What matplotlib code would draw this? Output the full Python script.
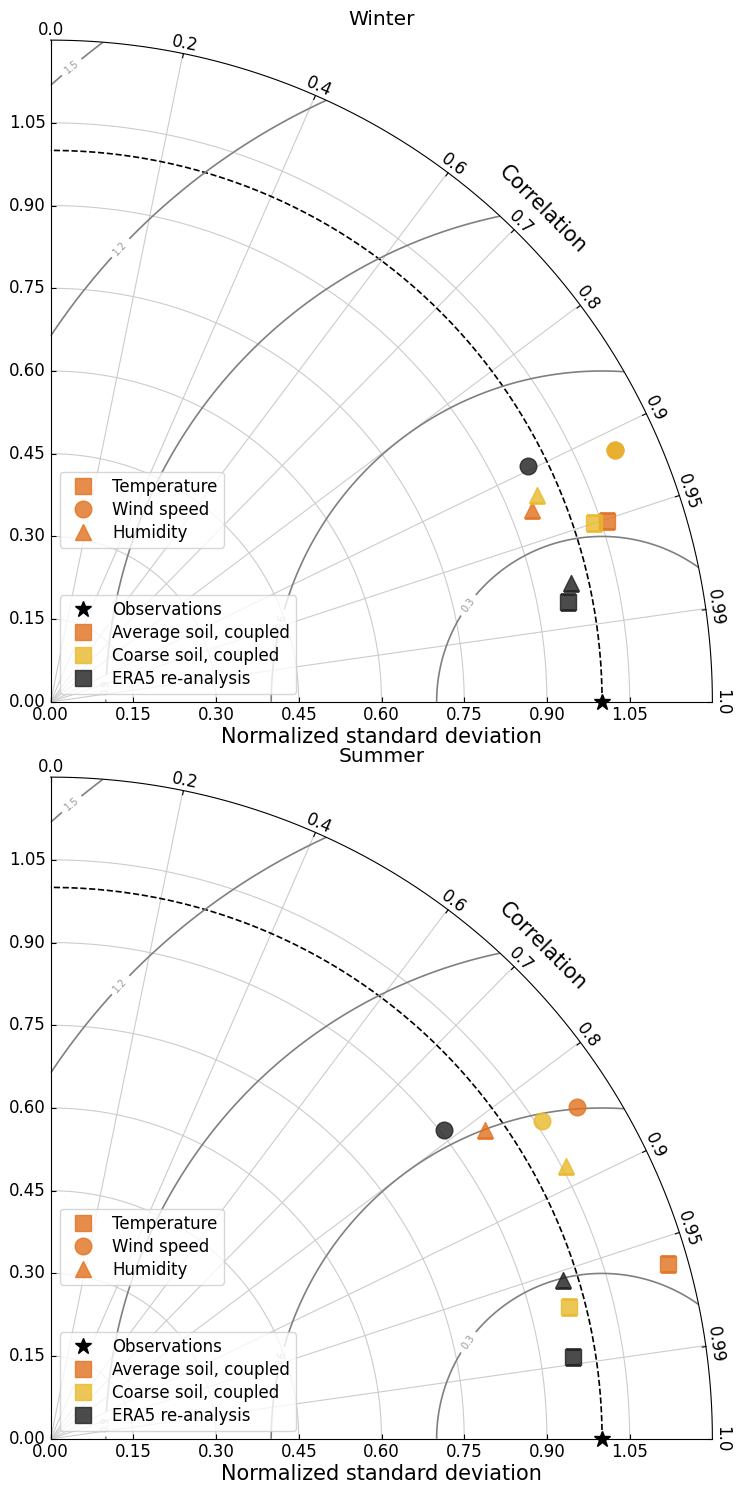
import numpy as np
import matplotlib
matplotlib.use('Agg')
import matplotlib.pyplot as plt
from matplotlib.lines import Line2D
from matplotlib.projections import PolarAxes
import mpl_toolkits.axisartist.floating_axes as FA
import mpl_toolkits.axisartist.grid_finder as GF

plt.rcParams['font.family'] = 'DejaVu Sans'
plt.rcParams['font.size'] = 12

seasons = ['Winter', 'Summer']
variables = ['Temperature', 'Wind speed', 'Humidity']
var_markers = ['s', 'o', '^']
runs = ['Average soil, coupled', 'Coarse soil, coupled', 'ERA5 re-analysis']
run_colors = ['#E2711F', '#E9B92A', '#1e1e1e']

# normalized standard deviation / correlation, rows = runs, cols = variables
winter_std = [[1.060, 1.121, 0.939],
              [1.037, 1.121, 0.958],
              [0.955, 0.966, 0.967]]
winter_corr = [[0.951, 0.913, 0.929],
               [0.950, 0.913, 0.920],
               [0.982, 0.897, 0.975]]
summer_std = [[1.164, 1.128, 0.966],
              [0.971, 1.061, 1.057],
              [0.959, 0.907, 0.972]]
summer_corr = [[0.962, 0.846, 0.815],
               [0.969, 0.840, 0.884],
               [0.988, 0.787, 0.955]]

corr_ticks = [0.0, 0.2, 0.4, 0.6, 0.7, 0.8, 0.9, 0.95, 0.99, 1.0]
std_ticks = [0.0, 0.15, 0.30, 0.45, 0.60, 0.75, 0.90, 1.05]
rms_levels = [0.3, 0.6, 0.9, 1.2, 1.5]
# where the rms labels sit, (angle, radius)
rms_label_pos = [(0.234, 0.773), (0.333, 0.443), (0.264, 0.104),
                 (1.420, 0.834), (1.538, 1.152)]
smax = 1.2


def taylor_axes(fig, rect, title):
    tr = PolarAxes.PolarTransform(apply_theta_transforms=False)
    tlocs = np.arccos(corr_ticks)
    gl1 = GF.FixedLocator(tlocs)
    tf1 = GF.DictFormatter(dict(zip(tlocs, [str(c) for c in corr_ticks])))
    gl2 = GF.FixedLocator(std_ticks)
    tf2 = GF.DictFormatter({s: '%.2f' % s for s in std_ticks})
    ghelper = FA.GridHelperCurveLinear(tr, extremes=(0, np.pi / 2, 0, smax),
                                       grid_locator1=gl1, tick_formatter1=tf1,
                                       grid_locator2=gl2, tick_formatter2=tf2)
    ax = FA.FloatingAxes(fig, rect, grid_helper=ghelper)
    fig.add_axes(ax)

    ax.axis['top'].set_axis_direction('bottom')
    ax.axis['top'].toggle(ticklabels=True, label=True)
    ax.axis['top'].major_ticklabels.set_axis_direction('top')
    ax.axis['top'].label.set_axis_direction('top')
    ax.axis['top'].label.set_text('Correlation')
    ax.axis['top'].label.set_fontsize(15)

    ax.axis['left'].set_axis_direction('bottom')
    ax.axis['left'].label.set_text('Normalized standard deviation')
    ax.axis['left'].label.set_fontsize(15)

    ax.axis['right'].set_axis_direction('top')
    ax.axis['right'].toggle(ticklabels=True)
    ax.axis['right'].major_ticklabels.set_axis_direction('left')
    ax.axis['bottom'].set_visible(False)

    ax.grid(True, color='#cccccc', linewidth=0.8)
    ax.set_title(title, fontsize=14.5)

    aux = ax.get_aux_axes(tr)
    aux.patch = ax.patch
    ax.patch.zorder = 0.9

    # reference std arc + observation point
    t = np.linspace(0, np.pi / 2, 200)
    aux.plot(t, np.ones_like(t), 'k--', lw=1.2, zorder=2)
    aux.plot(0, 1, 'k*', ms=12, clip_on=False, zorder=5)

    # centred rms contours
    rs, ts = np.meshgrid(np.linspace(0, smax, 200), np.linspace(0, np.pi / 2, 200))
    rms = np.sqrt(1 + rs ** 2 - 2 * rs * np.cos(ts))
    cs = aux.contour(ts, rs, rms, levels=rms_levels, colors='0.5', linewidths=1.2)
    aux.clabel(cs, inline=True, fontsize=7, fmt='%.1f', colors='0.6',
               manual=rms_label_pos)
    return ax, aux


fig = plt.figure(figsize=(7.36, 14.86), dpi=100)
# square plot boxes centred on the reference plot areas
w, h = 675 / 736, 675 / 1486
rects = [[381.5 / 736 - w / 2, 1 - 371 / 1486 - h / 2, w, h],
         [381.5 / 736 - w / 2, 1 - 1108 / 1486 - h / 2, w, h]]
panel_shift = [0, 737]
all_std = [winter_std, summer_std]
all_corr = [winter_corr, summer_corr]

for k in range(2):
    ax, aux = taylor_axes(fig, rects[k], seasons[k])
    for i in range(len(runs)):
        for j in range(len(variables)):
            aux.plot(np.arccos(all_corr[k][i][j]), all_std[k][i][j],
                     marker=var_markers[j], color=run_colors[i], ms=12,
                     alpha=0.8, ls='', zorder=4)

    dy = panel_shift[k]
    var_handles = [Line2D([], [], marker=m, color=run_colors[0], ms=12, alpha=0.8, ls='')
                   for m in var_markers]
    leg1 = ax.legend(var_handles, variables, loc='upper left',
                     bbox_to_anchor=(60 / 736, 1 - (472 + dy) / 1486),
                     bbox_transform=fig.transFigure, borderaxespad=0,
                     fontsize=12, labelspacing=0.3, borderpad=0.35)
    ax.add_artist(leg1)
    run_handles = [Line2D([], [], marker='*', color='k', ms=12, ls='')]
    run_handles += [Line2D([], [], marker='s', color=c, ms=12, alpha=0.8, ls='')
                    for c in run_colors]
    ax.legend(run_handles, ['Observations'] + runs, loc='lower left',
              bbox_to_anchor=(60 / 736, 1 - (694 + dy) / 1486),
              bbox_transform=fig.transFigure, borderaxespad=0,
              fontsize=12, labelspacing=0.3, borderpad=0.35)

fig.savefig('out.png', dpi=100)
